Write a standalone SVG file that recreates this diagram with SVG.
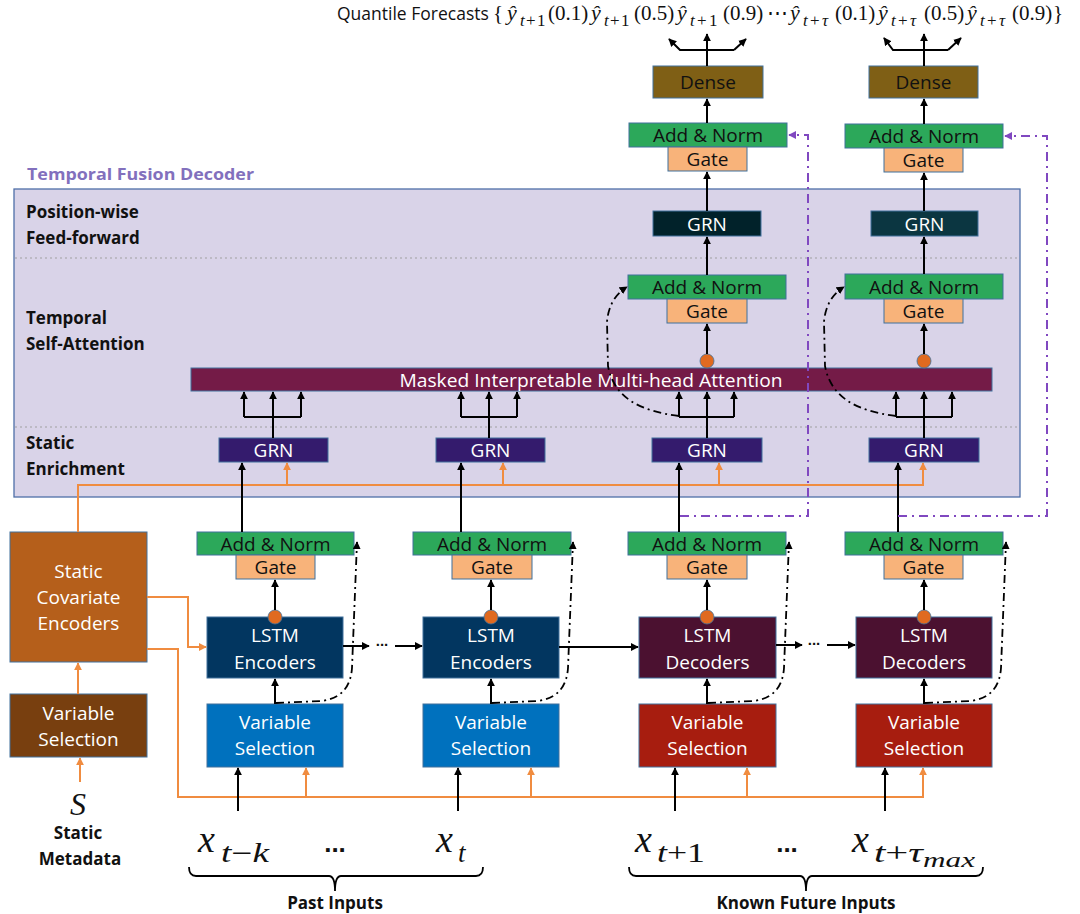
<svg xmlns="http://www.w3.org/2000/svg" width="1080" height="914" viewBox="0 0 1080 914">
<style>
.bx{stroke:#41719c;stroke-width:1}
.t{font-family:"Open Sans","Liberation Sans",sans-serif;font-size:19px;text-anchor:middle;dominant-baseline:central}
.w{fill:#ffffff}.k{fill:#111111}
.b{font-family:"Open Sans","Liberation Sans",sans-serif;font-weight:bold;font-size:17px;fill:#111111;dominant-baseline:central}
.m{font-family:"Liberation Serif","DejaVu Serif",serif;fill:#111111}
.i{font-style:italic}
.an{fill:#2ca85a}.gt{fill:#f8b37a}.enc{fill:#023660}.dec{fill:#4b1130}.vsp{fill:#0071be}.vsf{fill:#a71d0f}.grn{fill:#341b6d}
.ln{fill:none;stroke:#000;stroke-width:2}
.or{fill:none;stroke:#f08c40;stroke-width:2}
.dd{fill:none;stroke:#000;stroke-width:1.8;stroke-dasharray:8 4 2 4}
.pp{fill:none;stroke:#8048c0;stroke-width:2;stroke-dasharray:9 5 2 5}
.sep{stroke:#a0a0a0;stroke-width:1.2;stroke-dasharray:2 3}
.cir{fill:#e06a20;stroke:#41719c;stroke-width:0.8}
</style>
<defs>
<marker id="ak" viewBox="0 0 10 10" refX="9" refY="5" markerUnits="userSpaceOnUse" markerWidth="8" markerHeight="8" orient="auto"><path d="M0,0 L10,5 L0,10 z" fill="#000"/></marker>
<marker id="ao" viewBox="0 0 10 10" refX="9" refY="5" markerUnits="userSpaceOnUse" markerWidth="8" markerHeight="8" orient="auto"><path d="M0,0 L10,5 L0,10 z" fill="#f08c40"/></marker>
<marker id="ap" viewBox="0 0 10 10" refX="9" refY="5" markerUnits="userSpaceOnUse" markerWidth="8" markerHeight="8" orient="auto"><path d="M0,0 L10,5 L0,10 z" fill="#8048c0"/></marker>
</defs>

<!-- title -->
<g id="title">
<text class="m" y="20" font-size="21"><tspan x="337" font-family="Open Sans, Liberation Sans, sans-serif" font-size="17.5">Quantile Forecasts</tspan><tspan x="493">{</tspan><tspan x="507" class="i" font-size="22">ŷ</tspan><tspan x="520" y="26" font-size="17" class="i">t</tspan><tspan x="526" font-size="17">+</tspan><tspan x="537" font-size="17">1</tspan><tspan x="548" y="20">(0.1)</tspan><tspan x="591" class="i" font-size="22">ŷ</tspan><tspan x="604" y="26" font-size="17" class="i">t</tspan><tspan x="610" font-size="17">+</tspan><tspan x="621" font-size="17">1</tspan><tspan x="634" y="20">(0.5)</tspan><tspan x="677" class="i" font-size="22">ŷ</tspan><tspan x="690" y="26" font-size="17" class="i">t</tspan><tspan x="697" font-size="17">+</tspan><tspan x="709" font-size="17">1</tspan><tspan x="723" y="20">(0.9)</tspan><tspan x="767">⋯</tspan><tspan x="790" class="i" font-size="22">ŷ</tspan><tspan x="803" y="26" font-size="17" class="i">t</tspan><tspan x="810" font-size="17">+</tspan><tspan x="822" font-size="17" class="i">τ</tspan><tspan x="835" y="20">(0.1)</tspan><tspan x="878" class="i" font-size="22">ŷ</tspan><tspan x="891" y="26" font-size="17" class="i">t</tspan><tspan x="898" font-size="17">+</tspan><tspan x="910" font-size="17" class="i">τ</tspan><tspan x="924" y="20">(0.5)</tspan><tspan x="967" class="i" font-size="22">ŷ</tspan><tspan x="980" y="26" font-size="17" class="i">t</tspan><tspan x="987" font-size="17">+</tspan><tspan x="999" font-size="17" class="i">τ</tspan><tspan x="1012" y="20">(0.9)</tspan><tspan x="1053">}</tspan></text>
</g>

<!-- decoder frame -->
<g id="decoder">
<text x="27" y="174" font-family="Open Sans, Liberation Sans, sans-serif" font-weight="bold" font-size="16" fill="#8270bd" dominant-baseline="central" textLength="227" lengthAdjust="spacingAndGlyphs">Temporal Fusion Decoder</text>
<rect x="14" y="189" width="1006" height="308" fill="#d9d3e8" stroke="#4f6fa8" stroke-width="1.3"/>
<line class="sep" x1="15" y1="258" x2="1019" y2="258"/>
<line class="sep" x1="15" y1="427" x2="1019" y2="427"/>
<text class="b" x="26" y="211">Position-wise</text>
<text class="b" x="26" y="237">Feed-forward</text>
<text class="b" x="26" y="317">Temporal</text>
<text class="b" x="26" y="343">Self-Attention</text>
<text class="b" x="26" y="442">Static</text>
<text class="b" x="26" y="468">Enrichment</text>
</g>

<!-- output nodes -->
<g id="dense1"><rect class="bx" x="653" y="66" width="110" height="32" fill="#7f5f15"/><text class="t k" x="708" y="82">Dense</text></g>
<g id="dense2"><rect class="bx" x="869" y="66" width="109" height="32" fill="#7f5f15"/><text class="t k" x="923.5" y="82">Dense</text></g>
<g id="addnorm-top1"><rect class="bx an" x="629" y="123" width="158" height="24"/><text class="t k" x="708" y="135">Add &amp; Norm</text></g>
<g id="gate-top1"><rect class="bx gt" x="668" y="147" width="79" height="24"/><text class="t k" x="707.5" y="159">Gate</text></g>
<g id="addnorm-top2"><rect class="bx an" x="845" y="124" width="158" height="24"/><text class="t k" x="924" y="136">Add &amp; Norm</text></g>
<g id="gate-top2"><rect class="bx gt" x="884" y="148" width="79" height="24"/><text class="t k" x="923.5" y="160">Gate</text></g>
<g id="grn-pw1"><rect class="bx" x="653" y="211" width="108" height="25" fill="#01222a"/><text class="t w" x="707" y="223.5">GRN</text></g>
<g id="grn-pw2"><rect class="bx" x="871" y="211" width="107" height="25" fill="#0b3641"/><text class="t w" x="924.5" y="223.5">GRN</text></g>

<!-- attention layer -->
<g id="addnorm-att1"><rect class="bx an" x="628" y="275" width="158" height="24"/><text class="t k" x="707" y="287">Add &amp; Norm</text></g>
<g id="gate-att1"><rect class="bx gt" x="667" y="299" width="80" height="24"/><text class="t k" x="707" y="311">Gate</text></g>
<g id="addnorm-att2"><rect class="bx an" x="845" y="274" width="158" height="25"/><text class="t k" x="924" y="286.5">Add &amp; Norm</text></g>
<g id="gate-att2"><rect class="bx gt" x="884" y="299" width="79" height="24"/><text class="t k" x="923.5" y="311">Gate</text></g>
<g id="attention"><rect class="bx" x="191" y="368" width="801" height="23" fill="#741b47"/><text class="t w" x="591" y="380" textLength="383" lengthAdjust="spacingAndGlyphs">Masked Interpretable Multi-head Attention</text></g>
<g id="gates-att"><circle class="cir" cx="707" cy="361" r="7"/><circle class="cir" cx="924" cy="361" r="7"/></g>

<!-- static enrichment -->
<g id="grn-en1"><rect class="bx grn" x="219" y="438" width="109" height="24"/><text class="t w" x="273.5" y="450">GRN</text></g>
<g id="grn-en2"><rect class="bx grn" x="436" y="438" width="109" height="24"/><text class="t w" x="490.5" y="450">GRN</text></g>
<g id="grn-en3"><rect class="bx grn" x="652" y="438" width="110" height="24"/><text class="t w" x="707" y="450">GRN</text></g>
<g id="grn-en4"><rect class="bx grn" x="869" y="438" width="110" height="24"/><text class="t w" x="924" y="450">GRN</text></g>

<!-- static side -->
<g id="static-cov"><rect class="bx" x="10" y="532" width="137" height="130" fill="#b55f1b"/><text class="t w" x="78.5" y="571">Static</text><text class="t w" x="78.5" y="597">Covariate</text><text class="t w" x="78.5" y="623">Encoders</text></g>
<g id="static-vs"><rect class="bx" x="10" y="694" width="137" height="63" fill="#783f0f"/><text class="t w" x="78.5" y="713">Variable</text><text class="t w" x="78.5" y="739">Selection</text></g>
<g id="static-meta"><text class="m i" x="78" y="815" font-size="32" text-anchor="middle">S</text><text class="b" x="78" y="832" text-anchor="middle">Static</text><text class="b" x="80" y="858" text-anchor="middle">Metadata</text></g>

<!-- columns -->
<g id="col1">
<rect class="bx an" x="197" y="532" width="157" height="23"/><text class="t k" x="275.5" y="543.5">Add &amp; Norm</text>
<rect class="bx gt" x="236" y="555" width="79" height="24"/><text class="t k" x="275.5" y="567">Gate</text>
<rect class="bx enc" x="207" y="617" width="136" height="61"/><text class="t w" x="275" y="635">LSTM</text><text class="t w" x="275" y="662">Encoders</text>
<circle class="cir" cx="275" cy="617" r="7"/>
<rect class="bx vsp" x="207" y="704" width="136" height="63"/><text class="t w" x="275" y="722">Variable</text><text class="t w" x="275" y="748">Selection</text>
</g>
<g id="col2">
<rect class="bx an" x="413" y="532" width="158" height="23"/><text class="t k" x="492" y="543.5">Add &amp; Norm</text>
<rect class="bx gt" x="452" y="555" width="80" height="24"/><text class="t k" x="492" y="567">Gate</text>
<rect class="bx enc" x="423" y="617" width="136" height="61"/><text class="t w" x="491" y="635">LSTM</text><text class="t w" x="491" y="662">Encoders</text>
<circle class="cir" cx="491" cy="617" r="7"/>
<rect class="bx vsp" x="423" y="704" width="136" height="63"/><text class="t w" x="491" y="722">Variable</text><text class="t w" x="491" y="748">Selection</text>
</g>
<g id="col3">
<rect class="bx an" x="628" y="532" width="158" height="23"/><text class="t k" x="707" y="543.5">Add &amp; Norm</text>
<rect class="bx gt" x="667" y="555" width="80" height="24"/><text class="t k" x="707" y="567">Gate</text>
<rect class="bx dec" x="639" y="617" width="137" height="61"/><text class="t w" x="707.5" y="635">LSTM</text><text class="t w" x="707.5" y="662">Decoders</text>
<circle class="cir" cx="707" cy="617" r="7"/>
<rect class="bx vsf" x="639" y="704" width="137" height="63"/><text class="t w" x="707.5" y="722">Variable</text><text class="t w" x="707.5" y="748">Selection</text>
</g>
<g id="col4">
<rect class="bx an" x="845" y="532" width="158" height="23"/><text class="t k" x="924" y="543.5">Add &amp; Norm</text>
<rect class="bx gt" x="884" y="555" width="79" height="24"/><text class="t k" x="923.5" y="567">Gate</text>
<rect class="bx dec" x="856" y="617" width="136" height="61"/><text class="t w" x="924" y="635">LSTM</text><text class="t w" x="924" y="662">Decoders</text>
<circle class="cir" cx="924" cy="617" r="7"/>
<rect class="bx vsf" x="856" y="704" width="136" height="63"/><text class="t w" x="924" y="722">Variable</text><text class="t w" x="924" y="748">Selection</text>
</g>

<!-- inputs -->
<g id="inputs">
<text class="m i" x="198" y="852" font-size="38">x</text><text class="m" x="221" y="862" font-size="27" textLength="48" lengthAdjust="spacingAndGlyphs"><tspan class="i">t</tspan>−<tspan class="i">k</tspan></text>
<text x="335" y="852" font-family="Liberation Sans, sans-serif" font-weight="bold" font-size="26" text-anchor="middle" fill="#111">...</text>
<text class="m i" x="436" y="852" font-size="38">x</text><text class="m i" x="458" y="862" font-size="27">t</text>
<text class="m i" x="635" y="852" font-size="38">x</text><text class="m" x="657" y="862" font-size="27" textLength="48" lengthAdjust="spacingAndGlyphs"><tspan class="i">t</tspan>+1</text>
<text x="787" y="852" font-family="Liberation Sans, sans-serif" font-weight="bold" font-size="26" text-anchor="middle" fill="#111">...</text>
<text class="m i" x="852" y="852" font-size="38">x</text><text class="m" x="874" y="862" font-size="27" textLength="49" lengthAdjust="spacingAndGlyphs"><tspan class="i">t</tspan>+<tspan class="i">τ</tspan></text><text class="m i" x="923" y="867" font-size="21" textLength="52" lengthAdjust="spacingAndGlyphs">max</text>
<path class="ln" style="stroke-width:1.8" d="M189,867 Q189,876 196,876 H329 Q335,876 335,891 Q335,876 341,876 H476 Q483,876 483,867"/>
<path class="ln" style="stroke-width:1.8" d="M629,867 Q629,876 636,876 H800 Q806,876 806,891 Q806,876 812,876 H976 Q983,876 983,867"/>
<text class="b" x="335" y="902" text-anchor="middle">Past Inputs</text>
<text class="b" x="806" y="902" text-anchor="middle">Known Future Inputs</text>
</g>

<g id="connectors">
<!-- orange static context -->
<path class="or" d="M78,532 V485 H923 V463" marker-end="url(#ao)"/>
<path class="or" d="M287,485 V463" marker-end="url(#ao)"/>
<path class="or" d="M503,485 V463" marker-end="url(#ao)"/>
<path class="or" d="M719,485 V463" marker-end="url(#ao)"/>
<path class="or" d="M147,597 H188 V647 H206" marker-end="url(#ao)"/>
<path class="or" d="M147,649 H178 V797 H923 V768" marker-end="url(#ao)"/>
<path class="or" d="M306,797 V768" marker-end="url(#ao)"/>
<path class="or" d="M531,797 V768" marker-end="url(#ao)"/>
<path class="or" d="M747,797 V768" marker-end="url(#ao)"/>
<path class="or" d="M78,694 V663" marker-end="url(#ao)"/>
<path class="or" d="M80,782 V758" marker-end="url(#ao)"/>

<!-- inputs to variable selection -->
<path class="ln" d="M238,811 V768" marker-end="url(#ak)"/>
<path class="ln" d="M458,811 V768" marker-end="url(#ak)"/>
<path class="ln" d="M675,811 V768" marker-end="url(#ak)"/>
<path class="ln" d="M885,811 V768" marker-end="url(#ak)"/>

<!-- VS to LSTM, LSTM to gate -->
<path class="ln" d="M275,704 V679" marker-end="url(#ak)"/>
<path class="ln" d="M491,704 V679" marker-end="url(#ak)"/>
<path class="ln" d="M707,704 V679" marker-end="url(#ak)"/>
<path class="ln" d="M924,704 V679" marker-end="url(#ak)"/>
<path class="ln" d="M275,610 V580" marker-end="url(#ak)"/>
<path class="ln" d="M491,610 V580" marker-end="url(#ak)"/>
<path class="ln" d="M707,610 V580" marker-end="url(#ak)"/>
<path class="ln" d="M924,610 V580" marker-end="url(#ak)"/>

<!-- LSTM chain -->
<path class="ln" d="M343,646 H369" marker-end="url(#ak)"/>
<text x="382" y="646" font-family="Liberation Sans, sans-serif" font-weight="bold" font-size="15" text-anchor="middle" fill="#111">...</text>
<path class="ln" d="M395,646 H422" marker-end="url(#ak)"/>
<path class="ln" d="M559,647 H638" marker-end="url(#ak)"/>
<path class="ln" d="M776,645 H802" marker-end="url(#ak)"/>
<text x="814" y="645" font-family="Liberation Sans, sans-serif" font-weight="bold" font-size="15" text-anchor="middle" fill="#111">...</text>
<path class="ln" d="M827,645 H855" marker-end="url(#ak)"/>

<!-- lower skip connections -->
<path class="dd" d="M276,703 L322,701 Q350,697 352,668 L357,542" marker-end="url(#ak)"/>
<path class="dd" d="M492,703 L538,701 Q566,697 568,668 L573,542" marker-end="url(#ak)"/>
<path class="dd" d="M708,703 L754,701 Q782,697 784,668 L789,542" marker-end="url(#ak)"/>
<path class="dd" d="M925,703 L971,701 Q999,697 1001,668 L1006,542" marker-end="url(#ak)"/>

<!-- Add&Norm to enrichment GRN -->
<path class="ln" d="M242,532 V463" marker-end="url(#ak)"/>
<path class="ln" d="M461,532 V463" marker-end="url(#ak)"/>
<path class="ln" d="M679,532 V463" marker-end="url(#ak)"/>
<path class="ln" d="M898,532 V463" marker-end="url(#ak)"/>

<!-- GRN to attention forks -->
<path class="ln" d="M273,438 V417 M244,417 H301"/>
<path class="ln" d="M244,417 V392" marker-end="url(#ak)"/><path class="ln" d="M273,417 V392" marker-end="url(#ak)"/><path class="ln" d="M301,417 V392" marker-end="url(#ak)"/>
<path class="ln" d="M489,438 V417 M461,417 H517"/>
<path class="ln" d="M461,417 V392" marker-end="url(#ak)"/><path class="ln" d="M489,417 V392" marker-end="url(#ak)"/><path class="ln" d="M517,417 V392" marker-end="url(#ak)"/>
<path class="ln" d="M707,438 V417 M679,417 H734"/>
<path class="ln" d="M679,417 V392" marker-end="url(#ak)"/><path class="ln" d="M707,417 V392" marker-end="url(#ak)"/><path class="ln" d="M734,417 V392" marker-end="url(#ak)"/>
<path class="ln" d="M924,438 V417 M896,417 H952"/>
<path class="ln" d="M896,417 V392" marker-end="url(#ak)"/><path class="ln" d="M924,417 V392" marker-end="url(#ak)"/><path class="ln" d="M952,417 V392" marker-end="url(#ak)"/>

<!-- attention skip connections -->
<path class="dd" d="M679,416 C640,411 614,398 608,366 L607,322 Q609,298 627,287" marker-end="url(#ak)"/>
<path class="dd" d="M896,416 C857,411 831,398 825,366 L824,322 Q826,298 844,287" marker-end="url(#ak)"/>

<!-- upper stack -->
<path class="ln" d="M707,354 V324" marker-end="url(#ak)"/>
<path class="ln" d="M924,354 V324" marker-end="url(#ak)"/>
<path class="ln" d="M707,275 V237" marker-end="url(#ak)"/>
<path class="ln" d="M924,274 V237" marker-end="url(#ak)"/>
<path class="ln" d="M707,211 V172" marker-end="url(#ak)"/>
<path class="ln" d="M924,211 V173" marker-end="url(#ak)"/>
<path class="ln" d="M707,123 V99" marker-end="url(#ak)"/>
<path class="ln" d="M924,124 V99" marker-end="url(#ak)"/>

<!-- output forks -->
<path class="ln" d="M707,66 V34" marker-end="url(#ak)"/>
<path class="ln" d="M734,50 H680 L669,39" marker-end="url(#ak)"/>
<path class="ln" d="M734,50 L746,39" marker-end="url(#ak)"/>
<path class="ln" d="M924,66 V34" marker-end="url(#ak)"/>
<path class="ln" d="M948,50 H893 L884,38" marker-end="url(#ak)"/>
<path class="ln" d="M948,50 L961,38" marker-end="url(#ak)"/>

<!-- position-wise skip connections -->
<path class="pp" d="M680,516 H808 V135 H789" marker-end="url(#ap)"/>
<path class="pp" d="M898,516 H1047 V136 H1005" marker-end="url(#ap)"/>
</g>
</svg>
